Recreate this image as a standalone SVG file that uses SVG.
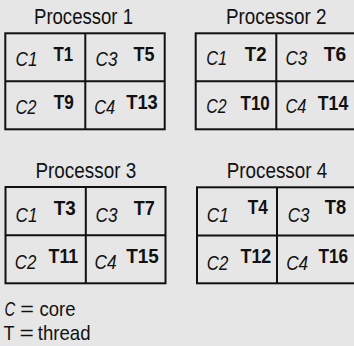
<svg xmlns="http://www.w3.org/2000/svg" width="354" height="346" viewBox="0 0 354 346">
  <style>
    text { font-family: "Liberation Sans Narrow", "Liberation Sans", Arial, sans-serif; fill: #111; }
    .title { font-size: 22px; }
    .core { font-size: 20px; font-style: italic; }
    .thr { font-size: 21px; font-weight: bold; }
    .leg { font-size: 21px; }
    .box { fill: none; stroke: #111; stroke-width: 2; }
  </style>
  <rect width="354" height="346" fill="#e6e6e6"/>

  <!-- Processor 1 -->
  <g id="processor1">
    <text class="title" x="34" y="24.3" textLength="99" lengthAdjust="spacingAndGlyphs">Processor 1</text>
    <rect class="box" x="5.3" y="33.3" width="159.4" height="96"/>
    <path class="box" d="M85.3 33.3V129.3M5.3 81.3H164.7"/>
    <text class="core" x="15.5" y="65.7" textLength="22" lengthAdjust="spacingAndGlyphs">C1</text>
    <text class="thr" x="53.5" y="61" textLength="19.7" lengthAdjust="spacingAndGlyphs">T1</text>
    <text class="core" x="95.5" y="66.3" textLength="22" lengthAdjust="spacingAndGlyphs">C3</text>
    <text class="thr" x="133.5" y="61" textLength="21" lengthAdjust="spacingAndGlyphs">T5</text>
    <text class="core" x="15.5" y="114.3" textLength="21" lengthAdjust="spacingAndGlyphs">C2</text>
    <text class="thr" x="53.8" y="109.3" textLength="20" lengthAdjust="spacingAndGlyphs">T9</text>
    <text class="core" x="94.2" y="114" textLength="21" lengthAdjust="spacingAndGlyphs">C4</text>
    <text class="thr" x="126.2" y="109.3" textLength="31.6" lengthAdjust="spacingAndGlyphs">T13</text>
  </g>

  <!-- Processor 2 -->
  <g id="processor2">
    <text class="title" x="226" y="24.3" textLength="100.5" lengthAdjust="spacingAndGlyphs">Processor 2</text>
    <rect class="box" x="195.7" y="33.3" width="160" height="96"/>
    <path class="box" d="M276.3 33.3V129.3M195.7 81.3H356"/>
    <text class="core" x="206.2" y="64.5" textLength="21" lengthAdjust="spacingAndGlyphs">C1</text>
    <text class="thr" x="244.8" y="60.7" textLength="21.7" lengthAdjust="spacingAndGlyphs">T2</text>
    <text class="core" x="285.5" y="65" textLength="21.7" lengthAdjust="spacingAndGlyphs">C3</text>
    <text class="thr" x="323.8" y="60.7" textLength="22.4" lengthAdjust="spacingAndGlyphs">T6</text>
    <text class="core" x="206.2" y="113.3" textLength="20.3" lengthAdjust="spacingAndGlyphs">C2</text>
    <text class="thr" x="240.5" y="110" textLength="29.3" lengthAdjust="spacingAndGlyphs">T10</text>
    <text class="core" x="285.5" y="113.3" textLength="21" lengthAdjust="spacingAndGlyphs">C4</text>
    <text class="thr" x="317.8" y="110" textLength="30.4" lengthAdjust="spacingAndGlyphs">T14</text>
  </g>

  <!-- Processor 3 -->
  <g id="processor3">
    <text class="title" x="35.5" y="178.3" textLength="100.7" lengthAdjust="spacingAndGlyphs">Processor 3</text>
    <rect class="box" x="5.5" y="187" width="160" height="96.3"/>
    <path class="box" d="M85.8 187V283.3M5.5 235.3H165.5"/>
    <text class="core" x="15.5" y="221.7" textLength="22" lengthAdjust="spacingAndGlyphs">C1</text>
    <text class="thr" x="53.8" y="215" textLength="22" lengthAdjust="spacingAndGlyphs">T3</text>
    <text class="core" x="95.5" y="221.7" textLength="22" lengthAdjust="spacingAndGlyphs">C3</text>
    <text class="thr" x="133.8" y="215" textLength="21" lengthAdjust="spacingAndGlyphs">T7</text>
    <text class="core" x="14.8" y="269.3" textLength="21.5" lengthAdjust="spacingAndGlyphs">C2</text>
    <text class="thr" x="48.5" y="263.3" textLength="29.7" lengthAdjust="spacingAndGlyphs">T11</text>
    <text class="core" x="94.5" y="269.3" textLength="22" lengthAdjust="spacingAndGlyphs">C4</text>
    <text class="thr" x="126.2" y="263.3" textLength="32.6" lengthAdjust="spacingAndGlyphs">T15</text>
  </g>

  <!-- Processor 4 -->
  <g id="processor4">
    <text class="title" x="226.8" y="178.3" textLength="100.4" lengthAdjust="spacingAndGlyphs">Processor 4</text>
    <rect class="box" x="197" y="187.3" width="160" height="96"/>
    <path class="box" d="M277 187.3V283.3M197 235.6H357"/>
    <text class="core" x="206.8" y="221.7" textLength="22" lengthAdjust="spacingAndGlyphs">C1</text>
    <text class="thr" x="247.8" y="214.3" textLength="20" lengthAdjust="spacingAndGlyphs">T4</text>
    <text class="core" x="287.8" y="221.7" textLength="21.7" lengthAdjust="spacingAndGlyphs">C3</text>
    <text class="thr" x="324.8" y="214.3" textLength="21.4" lengthAdjust="spacingAndGlyphs">T8</text>
    <text class="core" x="206.8" y="270" textLength="21.4" lengthAdjust="spacingAndGlyphs">C2</text>
    <text class="thr" x="240.5" y="262.7" textLength="30.7" lengthAdjust="spacingAndGlyphs">T12</text>
    <text class="core" x="286.2" y="270" textLength="22" lengthAdjust="spacingAndGlyphs">C4</text>
    <text class="thr" x="318.5" y="262.7" textLength="29.7" lengthAdjust="spacingAndGlyphs">T16</text>
  </g>

  <!-- Legend -->
  <g id="legend">
    <text class="leg" x="4.5" y="316" font-style="italic" textLength="10.7" lengthAdjust="spacingAndGlyphs">C</text>
    <text class="leg" x="20.2" y="316" textLength="13.6" lengthAdjust="spacingAndGlyphs">=</text>
    <text class="leg" x="39.5" y="316" textLength="36" lengthAdjust="spacingAndGlyphs">core</text>
    <text class="leg" x="3.5" y="340" textLength="11" lengthAdjust="spacingAndGlyphs">T</text>
    <text class="leg" x="19.5" y="340" textLength="14.3" lengthAdjust="spacingAndGlyphs">=</text>
    <text class="leg" x="37.8" y="340" textLength="52.7" lengthAdjust="spacingAndGlyphs">thread</text>
  </g>
</svg>
